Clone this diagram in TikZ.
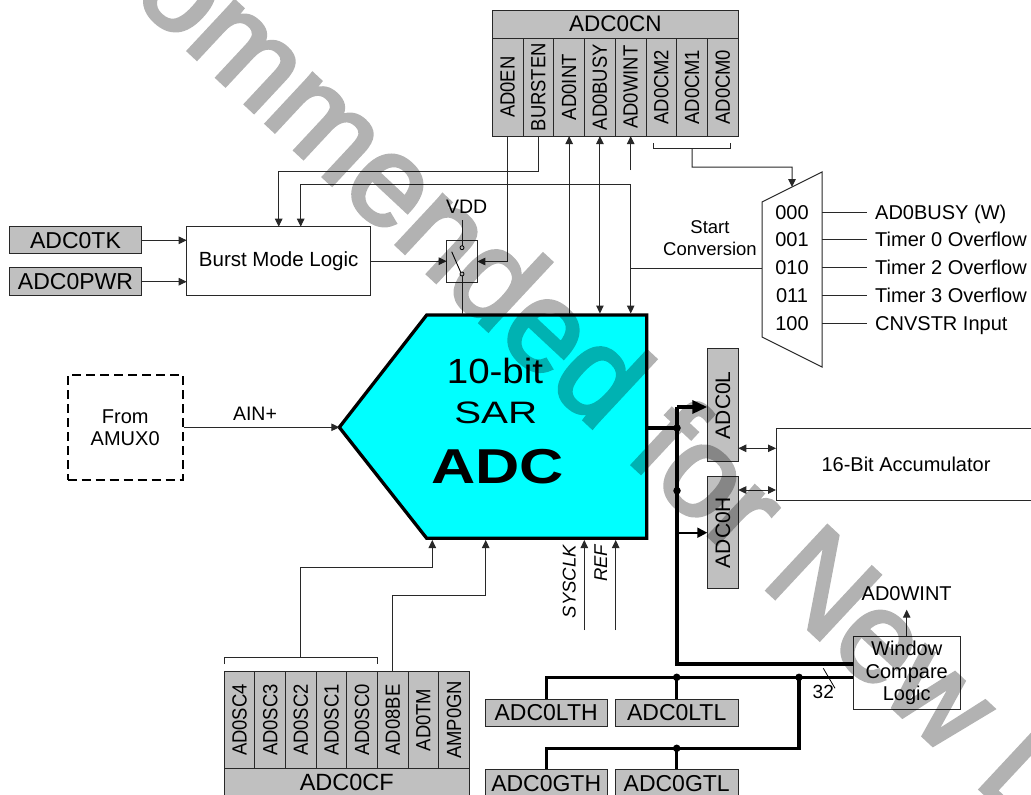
\documentclass[tikz,border=0pt]{standalone}
\usepackage{fontspec}
\setmainfont{Liberation Sans}
\newfontfamily\wmfont[FakeBold=3]{Liberation Sans}
\usetikzlibrary{arrows.meta,calc}
\definecolor{reggray}{RGB}{192,192,192}
\definecolor{adccyan}{RGB}{0,255,255}
\definecolor{lnc}{RGB}{40,40,40}
\newcommand{\myfs}[2]{\fontsize{#1}{#2}\selectfont}
\newcommand{\coltext}[1]{\rotatebox{90}{\scalebox{0.9}[1]{#1}}}
\begin{document}
\begin{tikzpicture}[x=1pt,y=-1pt,
 ln/.style={line width=1pt,draw=lnc},
 tip/.style={-{Triangle[length=8pt,width=7.5pt]}},
 dtip/.style={{Triangle[length=8pt,width=7.5pt]}-{Triangle[length=8pt,width=7.5pt]}},
 regbox/.style={draw=lnc,fill=reggray,line width=1pt,inner sep=0pt,outer sep=0pt},
 colbox/.style={regbox,minimum width=30.7pt,minimum height=97.7pt,font=\myfs{20.5}{22}},
 plainbox/.style={draw=lnc,line width=1pt,inner sep=0pt,outer sep=0pt,fill=white},
 bus/.style={line width=3.3pt,draw=black},
 jdot/.style={circle,fill=black,inner sep=0pt,minimum size=7.5pt},
 lbl/.style={inner sep=0pt,font=\myfs{20}{22}},
]
\useasboundingbox (0,0) rectangle (1031,795);
\fill[white] (0,0) rectangle (1031,795);

% helper rows
\coordinate (yT) at (0,313.5);
\coordinate (yB) at (0,540);

% ---------- ADC0CN register ----------
\node[regbox,minimum width=246pt,minimum height=28.3pt,font=\myfs{22.5}{24}] (cn) at (615.3,24.2) {ADC0CN};
\foreach \t [count=\i] in {AD0EN,BURSTEN,AD0INT,AD0BUSY,AD0WINT,AD0CM2,AD0CM1,AD0CM0}
  \node[colbox] (cn\i) at ({492.3+30.75*(\i-0.5)},87.2) {\coltext{\t}};

% ---------- ADC core ----------
\coordinate (aL) at (339.3,427.3);
\coordinate (aTL) at (426.7,315);
\coordinate (aTR) at (646.7,315);
\coordinate (aBR) at (646.7,538.3);
\coordinate (aBL) at (426.7,538.3);
\draw[line width=3.3pt,fill=adccyan,line join=miter] (aL) -- (aTL) -- (aTR) -- (aBR) -- (aBL) -- cycle;
\node[inner sep=0pt] (t1) at (495,370.8) {\scalebox{1.1}[1]{\myfs{35}{38}10-bit}};
\node[inner sep=0pt] (t2) at (495.7,413) {\scalebox{1.3}[1]{\myfs{31}{34}SAR}};
\node[inner sep=0pt] (t3) at (497.5,466.7) {\scalebox{1.25}[1]{\myfs{49}{52}\bfseries ADC}};

% ---------- Burst mode logic ----------
\node[plainbox,minimum width=184pt,minimum height=69pt,font=\myfs{20.5}{22}] (burst) at (278.7,261.2) {Burst Mode Logic};
\node[regbox,minimum width=132.4pt,minimum height=27.3pt,font=\myfs{23}{24}] (tk) at (75.5,240.3) {ADC0TK};
\node[regbox,minimum width=132.4pt,minimum height=28pt,font=\myfs{23}{24}] (pwr) at (75.5,281.7) {ADC0PWR};
\draw[ln,tip] (tk.east) -- (tk.east -| burst.west);
\draw[ln,tip] (pwr.east) -- (pwr.east -| burst.west);

% ---------- switch ----------
\node[plainbox,minimum width=30.6pt,minimum height=41.6pt] (sw) at (462,261.5) {};
\coordinate (vdd) at (462,220);
\coordinate (swA) at (462,247.7);
\coordinate (swB) at (462,274);
\node[lbl,font=\myfs{19.5}{20}] (vddl) at (466.7,206.5) {VDD};
\draw[ln] (vdd) -- ($(swA)+(0,-2)$);
\draw[line width=0.8pt] (swA) circle (2);
\draw[line width=0.8pt] (swB) circle (2);
\draw[line width=0.9pt] (451.7,251.7) -- (460.7,272.3);
\draw[ln] ($(swB)+(0,2)$) -- (sw.south |- yT);
\draw[ln,tip] (burst.east) -- (burst.east -| sw.west);

% ---------- control lines from ADC0CN ----------
\draw[ln,tip] (cn1.south) |- (sw.east);
\draw[ln,tip] (cn2.south) -- ++(0,35) -| (burst.north);
\coordinate (scTop) at (630.7,184.3);
\draw[ln,tip] (scTop) -| ($(burst.north)+(22,0)$);
\draw[ln,tip] (scTop) -- (scTop |- yT);
\draw[ln,tip] (cn3.south |- yT) -- (cn3.south);
\draw[ln,dtip] (cn4.south |- yT) -- (cn4.south);
\draw[ln,tip] ($(cn5.south)+(0,34)$) -- (cn5.south);
% bracket under AD0CM2..0
\draw[ln] (653.3,143.3) -- (653.3,148.3) -- (730,148.3) -- (730,143.3);

% ---------- start conversion mux ----------
\coordinate (muxL) at (762,268);
\coordinate (muxT) at (792,187);
\draw[ln] (762,202) -- (822,172) -- (822,367) -- (762,337) -- cycle;
\draw[ln,tip] (cn7.south |- 0,148.3) -- (692.2,167) -| (muxT);
\draw[ln] (muxL) -- (muxL -| scTop);
\node[lbl,font=\myfs{18.5}{22.5},align=center] (scl) at (710,238) {Start\\Conversion};
\foreach \c/\t [count=\i] in {000/AD0BUSY (W),001/Timer 0 Overflow,010/Timer 2 Overflow,011/Timer 3 Overflow,100/CNVSTR Input} {
  \node[lbl,anchor=base] (mc\i) at (792,{219.2+27.75*(\i-1)}) {\c};
  \node[lbl,anchor=base west] (ms\i) at (875,{219.2+27.75*(\i-1)}) {\t};
  \draw[ln] (822,{212+27.75*(\i-1)}) -- (867,{212+27.75*(\i-1)});
}

% ---------- AMUX input ----------
\node[draw=black,line width=2pt,dash pattern=on 9pt off 5pt,minimum width=115pt,minimum height=105pt,align=center,font=\myfs{20}{21.7},inner sep=0pt] (amux) at (125.2,427.5) {From\\AMUX0};
\draw[ln,tip] (amux.east |- aL) -- (aL);
\node[lbl,font=\myfs{19.5}{21}] (ain) at (255,413.3) {AIN+};

% ---------- output registers ----------
\node[regbox,minimum width=31pt,minimum height=112.7pt,font=\myfs{21}{22}] (l) at (722.8,405.3) {\rotatebox{90}{ADC0L}};
\node[regbox,minimum width=31pt,minimum height=111.6pt,font=\myfs{21}{22}] (h) at (722.8,532.5) {\rotatebox{90}{ADC0H}};
\node[plainbox,minimum width=260pt,minimum height=72.4pt,font=\myfs{20}{22}] (acc) at (906,464.5) {16-Bit Accumulator};
\coordinate (ya1) at (0,448.3);
\coordinate (ya2) at (0,490);
\draw[ln,dtip] (l.east |- ya1) -- (acc.west |- ya1);
\draw[ln,dtip] (h.east |- ya2) -- (acc.west |- ya2);

\coordinate (j1) at (677,428);
\coordinate (jt) at (677,407);
\coordinate (jm) at (677,490.7);
\coordinate (jh) at (677,532.7);
\coordinate (jb) at (677,664);
\draw[bus] (j1 -| aTR) -- (j1);
\draw[bus,-{Triangle[length=15pt,width=13pt]}] (jt) -- (jt -| l.west);
\draw[line width=2pt,-{Triangle[length=10pt,width=10pt]}] (jh) -- (jh -| h.west);

% ---------- window compare ----------
\node[plainbox,minimum width=106.7pt,minimum height=72.6pt,align=center,font=\myfs{20}{22.5}] (win) at (906.7,673) {Window\\Compare\\Logic};
\draw[ln,tip] (win.north) -- ++(0,-27);
\node[lbl] (wint) at (906.7,594) {AD0WINT};
\draw[bus,line join=miter] (jt) -- (jb) -- (jb -| win.west);
\node[jdot] at (j1) {};
\node[jdot] at (jm) {};

\node[regbox,minimum width=122.3pt,minimum height=27.4pt,font=\myfs{23}{24}] (lth) at (546.2,713) {ADC0LTH};
\node[regbox,minimum width=123.3pt,minimum height=27.4pt,font=\myfs{23}{24}] (ltl) at (676.7,713) {ADC0LTL};
\node[regbox,minimum width=122.3pt,minimum height=27.7pt,font=\myfs{23}{24}] (gth) at (546.2,783.2) {ADC0GTH};
\node[regbox,minimum width=123.3pt,minimum height=27.7pt,font=\myfs{23}{24}] (gtl) at (676.7,783.2) {ADC0GTL};
\coordinate (b2) at (0,677.3);
\coordinate (yg) at (0,748.3);
\coordinate (d3) at (799,677.3);
\draw[bus,line join=miter] (lth.north) -- (lth.north |- b2) -- (b2 -| win.west);
\draw[bus] (ltl.north |- b2) -- (ltl.north);
\draw[bus,line join=miter] (d3) -- (d3 |- yg) -| (gth.north);
\draw[bus] (gtl.north |- yg) -- (gtl.north);
\node[jdot] at (ltl.north |- b2) {};
\node[jdot] at (d3) {};
\node[jdot] at (gtl.north |- yg) {};
\draw[line width=0.8pt] (823.3,668.3) -- (835,688.3);
\node[lbl,font=\myfs{19}{20}] (n32) at (823.3,691.5) {32};

% ---------- ADC0CF register ----------
\node[regbox,minimum width=245pt,minimum height=28.4pt,font=\myfs{23.5}{24}] (cf) at (346.8,782.5) {ADC0CF};
\foreach \t [count=\i] in {AD0SC4,AD0SC3,AD0SC2,AD0SC1,AD0SC0,AD08BE,AD0TM,AMP0GN}
  \node[colbox,minimum height=96.6pt] (cf\i) at ({224.3+30.625*(\i-0.5)},720) {\coltext{\t}};
\draw[ln] (224.3,664) -- (224.3,657.3) -- (377.7,657.3) -- (377.7,664);
\coordinate (in1) at (432.3,540);
\coordinate (in2) at (485.7,540);
\coordinate (in3) at (584.3,540);
\coordinate (in4) at (615.7,540);
\draw[ln,tip] (cf3.north |- 0,657.3) |- ($(in1)+(0,27.3)$) -- (in1);
\draw[ln,tip] (cf6.north) |- ($(in2)+(0,55)$) -- (in2);
\draw[ln,tip] ($(in3)+(0,90)$) -- (in3);
\draw[ln,tip] ($(in4)+(0,90)$) -- (in4);
\node[rotate=90,inner sep=0pt,font=\itshape\myfs{18.5}{20}] (sysclk) at (569.2,581.7) {SYSCLK};
\node[rotate=90,inner sep=0pt,font=\itshape\myfs{18.5}{20}] (refl) at (600.8,563.3) {REF};

% ---------- watermark ----------
\begin{scope}[transparency group,opacity=0.3]
\node[rotate=-43,anchor=base west,inner sep=0pt,font=\wmfont\myfs{128}{130},text=black] (wm) at (-208,-319) {Not Recommended for New Designs};
\end{scope}
\end{tikzpicture}
\end{document}
